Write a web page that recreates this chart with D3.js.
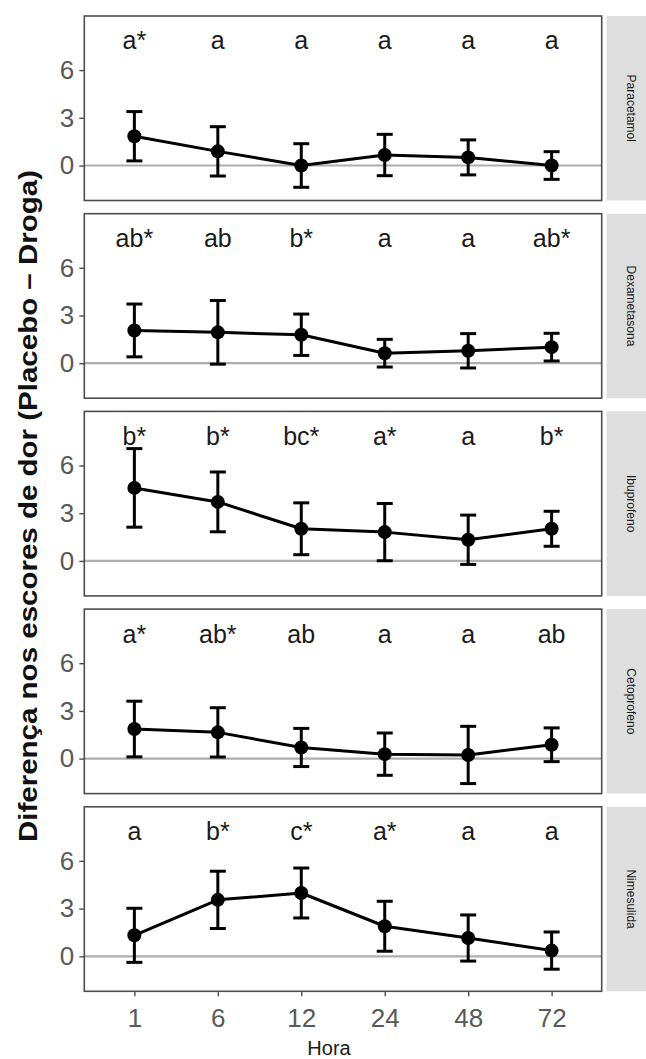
<!DOCTYPE html>
<html>
<head>
<meta charset="utf-8">
<script src="https://cdn.jsdelivr.net/npm/d3@7"></script>
<style>
  html, body { margin: 0; padding: 0; background: #ffffff; }
  svg { display: block; }
</style>
</head>
<body>
<svg id="chart" width="646" height="1059"></svg>
<script>
// Time points (hours after surgery)
const hours = ["1", "6", "12", "24", "48", "72"];

// Drug facets, top to bottom
const drugs = ["Paracetamol", "Dexametasona", "Ibuprofeno", "Cetoprofeno", "Nimesulida"];

// Mean difference in pain scores (Placebo - Droga) and error half-width
const paracetamolMean = [1.84, 0.89, 0.0, 0.66, 0.51, 0.0];
const paracetamolErr  = [1.55, 1.55, 1.37, 1.30, 1.10, 0.87];
const paracetamolSig  = ["a*", "a", "a", "a", "a", "a"];

const dexametasonaMean = [2.06, 1.94, 1.79, 0.63, 0.78, 1.01];
const dexametasonaErr  = [1.66, 2.00, 1.30, 0.87, 1.08, 0.87];
const dexametasonaSig  = ["ab*", "ab", "b*", "a", "a", "ab*"];

const ibuprofenoMean = [4.59, 3.71, 2.02, 1.81, 1.33, 2.02];
const ibuprofenoErr  = [2.47, 1.88, 1.63, 1.80, 1.55, 1.10];
const ibuprofenoSig  = ["b*", "b*", "bc*", "a*", "a", "b*"];

const cetoprofenoMean = [1.86, 1.65, 0.70, 0.28, 0.23, 0.87];
const cetoprofenoErr  = [1.75, 1.55, 1.20, 1.33, 1.80, 1.06];
const cetoprofenoSig  = ["a*", "ab*", "ab", "a", "a", "ab"];

const nimesulidaMean = [1.32, 3.55, 3.98, 1.89, 1.15, 0.36];
const nimesulidaErr  = [1.70, 1.80, 1.57, 1.57, 1.45, 1.17];
const nimesulidaSig  = ["a", "b*", "c*", "a*", "a", "a"];

const yTicks = [0, 3, 6];

const means = [paracetamolMean, dexametasonaMean, ibuprofenoMean, cetoprofenoMean, nimesulidaMean];
const errs  = [paracetamolErr, dexametasonaErr, ibuprofenoErr, cetoprofenoErr, nimesulidaErr];
const sigs  = [paracetamolSig, dexametasonaSig, ibuprofenoSig, cetoprofenoSig, nimesulidaSig];

// Layout
const panelLeft = 84.3, panelRight = 601.7;
const panelTop0 = 16, panelStep = 197.7, panelH = 184.5;
const stripX = 606.5, stripW = 45;
const yDomain = [-2.2, 9.4];
const letterY = 7.3; // baseline of the significance letters, in data units

const svg = d3.select("#chart");
const font = "'Liberation Sans', Arial, sans-serif";

const x = d3.scalePoint().domain(hours).range([panelLeft, panelRight]).padding(0.6);

drugs.forEach((drug, i) => {
  const top = panelTop0 + i * panelStep;
  const y = d3.scaleLinear().domain(yDomain).range([top + panelH, top]);
  const g = svg.append("g");

  const rows = hours.map((h, j) => ({ h, m: means[i][j], e: errs[i][j], s: sigs[i][j] }));

  // panel background
  g.append("rect")
    .attr("x", panelLeft).attr("y", top)
    .attr("width", panelRight - panelLeft).attr("height", panelH)
    .attr("fill", "#ffffff");

  // reference line at zero
  g.append("line")
    .attr("x1", panelLeft).attr("x2", panelRight)
    .attr("y1", y(0)).attr("y2", y(0))
    .attr("stroke", "#adadad").attr("stroke-width", 2.2);

  // significance letters
  g.selectAll("text.sig").data(rows).join("text")
    .attr("class", "sig")
    .attr("x", d => x(d.h)).attr("y", y(letterY))
    .attr("text-anchor", "middle")
    .attr("font-family", font).attr("font-size", 25)
    .attr("fill", "#1a1a1a")
    .text(d => d.s);

  // connecting line
  g.append("path")
    .datum(rows)
    .attr("fill", "none").attr("stroke", "#000").attr("stroke-width", 3)
    .attr("stroke-linejoin", "round")
    .attr("d", d3.line().x(d => x(d.h)).y(d => y(d.m)));

  // error bars
  const eb = g.selectAll("g.eb").data(rows).join("g").attr("class", "eb")
    .attr("stroke", "#000").attr("stroke-width", 3);
  eb.append("line")
    .attr("x1", d => x(d.h)).attr("x2", d => x(d.h))
    .attr("y1", d => y(d.m - d.e)).attr("y2", d => y(d.m + d.e));
  eb.append("line")
    .attr("x1", d => x(d.h) - 8).attr("x2", d => x(d.h) + 8)
    .attr("y1", d => y(d.m + d.e)).attr("y2", d => y(d.m + d.e));
  eb.append("line")
    .attr("x1", d => x(d.h) - 8).attr("x2", d => x(d.h) + 8)
    .attr("y1", d => y(d.m - d.e)).attr("y2", d => y(d.m - d.e));

  // points
  g.selectAll("circle").data(rows).join("circle")
    .attr("cx", d => x(d.h)).attr("cy", d => y(d.m)).attr("r", 7)
    .attr("fill", "#000");

  // panel border
  g.append("rect")
    .attr("x", panelLeft).attr("y", top)
    .attr("width", panelRight - panelLeft).attr("height", panelH)
    .attr("fill", "none").attr("stroke", "#4d4d4d").attr("stroke-width", 1.6);

  // left axis
  const ax = g.append("g")
    .attr("transform", `translate(${panelLeft},0)`)
    .call(d3.axisLeft(y).tickValues(yTicks).tickSize(5).tickPadding(5));
  ax.select(".domain").remove();
  ax.selectAll(".tick line").attr("stroke", "#4d4d4d").attr("stroke-width", 1.4);
  ax.selectAll(".tick text")
    .attr("font-family", font).attr("font-size", 26).attr("fill", "#595959");

  // facet strip
  g.append("rect")
    .attr("x", stripX).attr("y", top)
    .attr("width", stripW).attr("height", panelH)
    .attr("fill", "#dedede");
  g.append("text")
    .attr("transform", `translate(631,${top + panelH / 2}) rotate(90)`)
    .attr("text-anchor", "middle").attr("dominant-baseline", "central")
    .attr("font-family", font).attr("font-size", 12)
    .attr("fill", "#1a1a1a")
    .text(drug);

  // bottom axis only under the last panel
  if (i === drugs.length - 1) {
    const bx = g.append("g")
      .attr("transform", `translate(0,${top + panelH})`)
      .call(d3.axisBottom(x).tickSize(5).tickPadding(12));
    bx.select(".domain").remove();
    bx.selectAll(".tick line").attr("stroke", "#4d4d4d").attr("stroke-width", 1.4);
    bx.selectAll(".tick text")
      .attr("font-family", font).attr("font-size", 26).attr("fill", "#595959");
  }
});

// axis titles
svg.append("text")
  .attr("transform", "translate(37,506) rotate(-90)")
  .attr("text-anchor", "middle")
  .attr("font-family", font).attr("font-weight", "bold").attr("font-size", 26)
  .attr("textLength", 672).attr("lengthAdjust", "spacingAndGlyphs")
  .attr("fill", "#111")
  .text("Diferença nos escores de dor (Placebo – Droga)");

svg.append("text")
  .attr("x", 329).attr("y", 1055)
  .attr("text-anchor", "middle")
  .attr("font-family", font).attr("font-size", 20)
  .attr("fill", "#1a1a1a")
  .text("Hora");
</script>
</body>
</html>
